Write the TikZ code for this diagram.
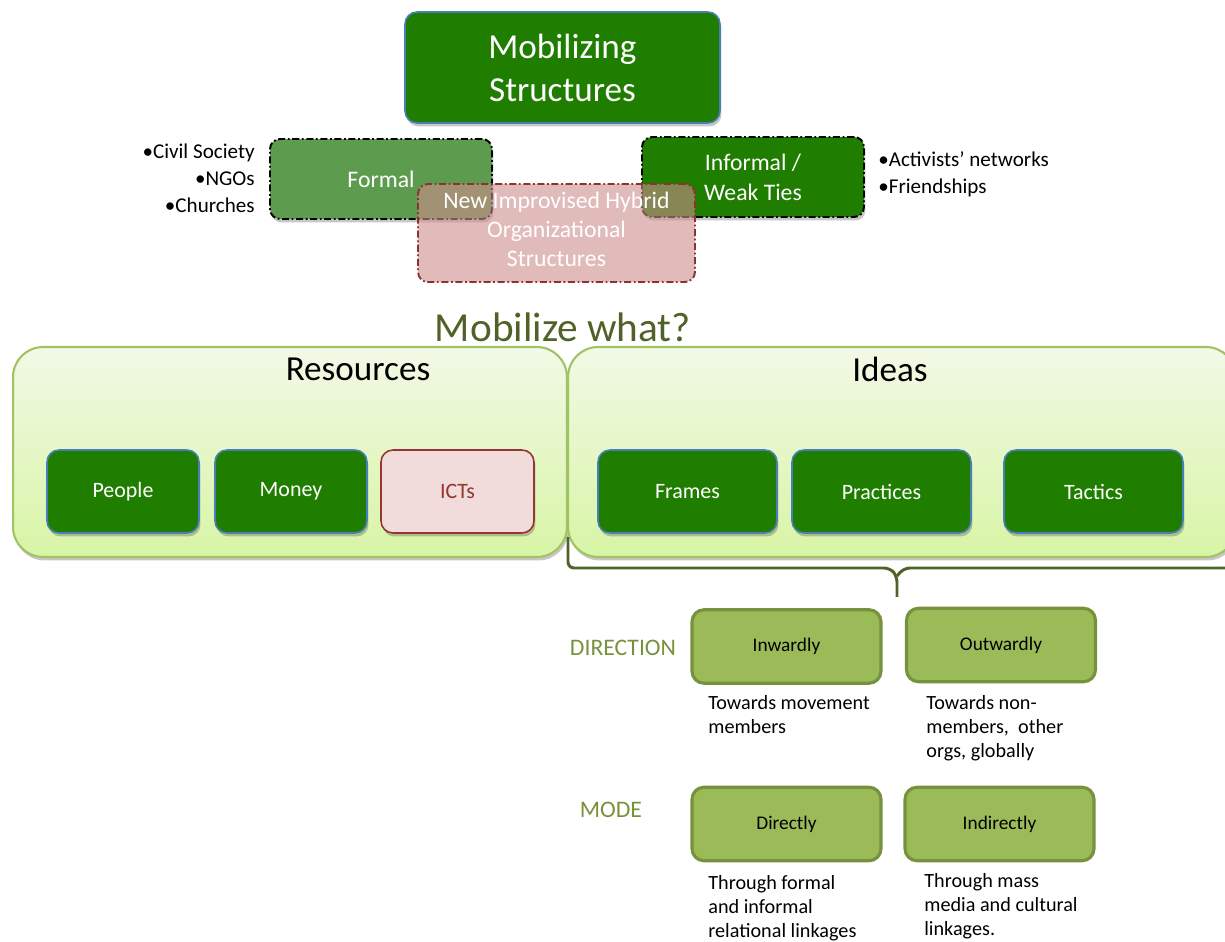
\documentclass[tikz,border=0pt]{standalone}
\usepackage{fontspec}
\setmainfont{Carlito}
\usepackage{tikz}
\usetikzlibrary{shadows}
\definecolor{mgreen}{RGB}{31,125,0}
\definecolor{fgreen}{RGB}{93,156,79}
\definecolor{boxblue}{RGB}{74,126,187}
\definecolor{hybred}{RGB}{205,140,140}
\definecolor{darkred}{RGB}{140,50,50}
\definecolor{ictpink}{RGB}{242,220,219}
\definecolor{ictred}{RGB}{148,54,52}
\definecolor{paneltop}{RGB}{242,249,231}
\definecolor{panelbot}{RGB}{216,245,165}
\definecolor{panelline}{RGB}{160,195,100}
\definecolor{olive}{RGB}{79,98,40}
\definecolor{leaf}{RGB}{155,187,89}
\definecolor{leafline}{RGB}{118,146,60}

\begin{document}
\begin{tikzpicture}[x=0.02cm,y=-0.02cm,
  softshadow/.style={drop shadow={shadow xshift=0.03cm,shadow yshift=-0.07cm,opacity=0.22,fill=black}},
  darkbox/.style={draw=boxblue,line width=0.9pt,fill=mgreen,rounded corners=0.24cm,text=white,align=center,inner sep=0pt,softshadow},
  dashbox/.style={draw=black,line width=1.1pt,dash pattern=on 4pt off 1.5pt on 1pt off 1.5pt,rounded corners=0.2cm,text=white,align=center,inner sep=0pt},
  panel/.style={draw=panelline,line width=1.2pt,top color=paneltop,bottom color=panelbot,rounded corners=0.6cm,inner sep=0pt,softshadow},
  leafbox/.style={draw=leafline,line width=1.8pt,fill=leaf,rounded corners=0.24cm,align=center,inner sep=0pt,minimum width=3.78cm,minimum height=1.47cm,font=\fontsize{11}{13}\selectfont},
  note/.style={align=left,anchor=base west,inner sep=0pt,font=\fontsize{11.5}{13.66}\selectfont},
  brace/.style={draw=olive,line width=1.7pt,rounded corners=0.12cm}]
\useasboundingbox (0,0) rectangle (1225,942);
% top structures
\node[darkbox,minimum width=6.3cm,minimum height=2.22cm,font=\fontsize{20}{24.5}\selectfont] (mobstruct) at (562.5,67.5) {Mobilizing\\Structures};
\node[dashbox,softshadow,fill=fgreen,minimum width=4.44cm,minimum height=1.6cm,font=\fontsize{13.5}{17}\selectfont] (formal) at (381,179) {Formal};
\node[dashbox,softshadow,fill=mgreen,minimum width=4.44cm,minimum height=1.6cm,font=\fontsize{13.5}{17}\selectfont] (informal) at (753,177) {Informal /\\Weak Ties};
\node[dashbox,draw=darkred,fill=hybred,fill opacity=0.6,minimum width=5.54cm,minimum height=1.96cm] (hybrid) at (556.5,233) {};
\node[text=white,align=center,inner sep=0pt,font=\fontsize{13.5}{16.5}\selectfont] (hybridtext) at (556.5,229) {New Improvised Hybrid\\Organizational\\Structures};
% bullet lists
\node[align=right,anchor=base east,inner sep=0pt,font=\fontsize{12}{15.4}\selectfont] (formallist) at (255,213) {•Civil Society\\•NGOs\\•Churches};
\node[align=left,anchor=base west,inner sep=0pt,font=\fontsize{12}{15.4}\selectfont] (informallist) at (878,194) {•Activists’ networks\\•Friendships};
% mobilize what
\node[text=olive,font=\fontsize{23.5}{28}\selectfont] (what) at (563,327) {Mobilize what?};
\node[panel,minimum width=11.08cm,minimum height=4.2cm] (resources) at (290,452) {};
\node[panel,minimum width=13.36cm,minimum height=4.2cm] (ideas) at (902,452) {};
\node[font=\fontsize{20}{24}\selectfont] (reslabel) at (358,369) {Resources};
\node[font=\fontsize{20}{24}\selectfont] (idealabel) at (890,369) {Ideas};
% resource and idea boxes
\node[darkbox,minimum width=3.04cm,minimum height=1.66cm,font=\fontsize{12.5}{15}\selectfont] (people) at (123,491.5) {People};
\node[darkbox,minimum width=3.04cm,minimum height=1.66cm,font=\fontsize{12.5}{15}\selectfont] (money) at (291,491.5) {Money};
\node[darkbox,draw=ictred,fill=ictpink,text=ictred,minimum width=3.06cm,minimum height=1.66cm,font=\fontsize{12.5}{15}\selectfont] (icts) at (457.5,491.5) {ICTs};
\node[darkbox,minimum width=3.58cm,minimum height=1.66cm,font=\fontsize{12.5}{15}\selectfont] (frames) at (687.5,491.5) {Frames};
\node[darkbox,minimum width=3.58cm,minimum height=1.66cm,font=\fontsize{12.5}{15}\selectfont] (practices) at (881.5,491.5) {Practices};
\node[darkbox,minimum width=3.58cm,minimum height=1.66cm,font=\fontsize{12.5}{15}\selectfont] (tactics) at (1093.5,491.5) {Tactics};
% brace under ideas
\coordinate (bl) at (568,537);
\coordinate (bc) at (897,597);
\coordinate (br) at (1240,568);
\draw[brace] (bl) -- (568,568) -- (890,568) -- (897,576) -- (bc);
\draw[brace] (897,576) -- (904,568) -- (br);
% direction and mode
\node[text=leafline,font=\fontsize{13.5}{16}\selectfont] (direction) at (623,648) {DIRECTION};
\node[text=leafline,font=\fontsize{13.5}{16}\selectfont] (mode) at (611,810) {MODE};
\node[leafbox] (inward) at (786.5,646.5) {Inwardly};
\node[leafbox] (outward) at (1001,645) {Outwardly};
\node[leafbox] (direct) at (786.5,824) {Directly};
\node[leafbox] (indirect) at (999.5,824) {Indirectly};
% notes under boxes
\node[note] (inwardnote) at (708,733) {Towards movement\\members};
\node[note] (outwardnote) at (926,757) {Towards non-\\members,~ other\\orgs, globally};
\node[note] (directnote) at (708,937) {Through formal\\and informal\\relational linkages};
\node[note] (indirectnote) at (924,935) {Through mass\\media and cultural\\linkages.};
\end{tikzpicture}
\end{document}
